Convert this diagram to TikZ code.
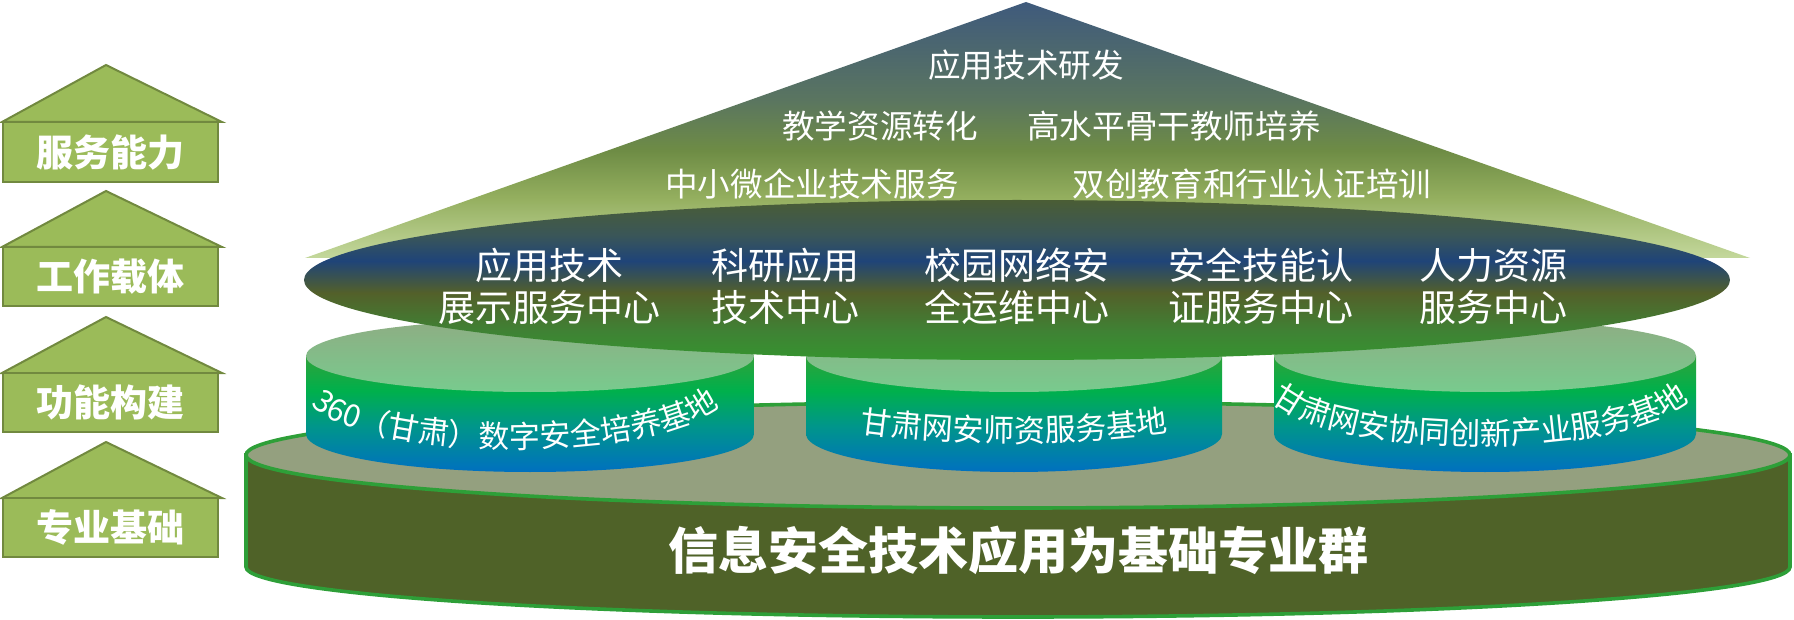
\documentclass[tikz,border=0pt]{standalone}
\usepackage{fontspec}
\newfontfamily\cjk{Noto Sans CJK SC}
\usetikzlibrary{decorations.text}

\definecolor{houseF}{HTML}{9BBB59}
\definecolor{houseD}{HTML}{71893F}
\definecolor{baseTop}{HTML}{94A07F}
\definecolor{baseSide}{HTML}{4F6228}
\definecolor{baseLine}{HTML}{2E9F38}
\definecolor{diskTopA}{HTML}{8EAD83}
\definecolor{diskTopB}{HTML}{78CB8E}
\definecolor{roofA}{HTML}{3F5A7C}
\definecolor{roofB}{HTML}{5A7560}
\definecolor{roofC}{HTML}{6E8C45}
\definecolor{roofD}{HTML}{93AE5E}
\definecolor{roofE}{HTML}{C4D89C}
\definecolor{carA}{HTML}{4A5D35}
\definecolor{carB}{HTML}{3A5658}
\definecolor{carC}{HTML}{1F4478}
\definecolor{carD}{HTML}{53602A}
\definecolor{carE}{HTML}{3F8234}
\definecolor{carF}{HTML}{35942F}
\definecolor{sideA}{HTML}{2FA23A}
\definecolor{sideB}{HTML}{00B04C}
\definecolor{sideC}{HTML}{00968A}
\definecolor{sideD}{HTML}{0070C0}

\pgfdeclareverticalshading{roofshade}{100bp}{color(0bp)=(roofE); color(25bp)=(roofE);
  color(37bp)=(roofD); color(46bp)=(roofC); color(56bp)=(roofB); color(75bp)=(roofA); color(100bp)=(roofA)}
\pgfdeclareverticalshading{carshade}{100bp}{color(0bp)=(carF); color(25bp)=(carF);
  color(34bp)=(carE); color(46bp)=(carD); color(56bp)=(carC); color(64bp)=(carB); color(75bp)=(carA); color(100bp)=(carA)}
\pgfdeclareverticalshading{sideshade}{100bp}{color(0bp)=(sideD); color(25bp)=(sideD);
  color(45bp)=(sideC); color(60bp)=(sideB); color(75bp)=(sideA); color(100bp)=(sideA)}

\newcommand\disktxt{\cjk\fontsize{15.5}{18}\selectfont}

\begin{document}
\begin{tikzpicture}[
  x=0.5pt, y=0.5pt,
  font=\cjk,
  housebox/.style={fill=houseF, draw=houseD, line width=1pt},
  tag/.style={text=white, inner sep=0pt, font=\cjk\bfseries\fontsize{18.5}{22}\selectfont},
  rooftxt/.style={text=white, inner sep=0pt, font=\cjk\fontsize{16.3}{20}\selectfont},
  carrier/.style={text=white, inner sep=0pt, align=center, font=\cjk\fontsize{18.5}{21}\selectfont},
  disktop/.style={top color=diskTopA, bottom color=diskTopB},
  diskside/.style={shading=sideshade},
  basering/.style={draw=baseLine, line width=1.8pt},
  disklabel/.style={decorate, decoration={text along path, text align=center, text color=white, text={|\disktxt|#1}}},
]
  \useasboundingbox (0,0) rectangle (1794,-620);

  % left legend
  \filldraw[housebox] (2,-122) -- (106,-65) -- (222,-122) -- cycle;
  \filldraw[housebox] (3,-122) rectangle (218,-182);
  \node[tag] (serve) at (110,-152) {服务能力};

  \filldraw[housebox] (2,-247) -- (106,-191) -- (222,-247) -- cycle;
  \filldraw[housebox] (3,-247) rectangle (218,-306);
  \node[tag] (carry) at (110,-277) {工作载体};

  \filldraw[housebox] (2,-373) -- (106,-317) -- (222,-373) -- cycle;
  \filldraw[housebox] (3,-373) rectangle (218,-432);
  \node[tag] (build) at (110,-402) {功能构建};

  \filldraw[housebox] (2,-498) -- (106,-442) -- (222,-498) -- cycle;
  \filldraw[housebox] (3,-498) rectangle (218,-557);
  \node[tag] (basis) at (110,-527) {专业基础};

  % base cylinder
  \filldraw[basering, fill=baseSide] (246,-455) -- (246,-567)
    arc[start angle=180, end angle=360, x radius=772, y radius=50] -- (1790,-455) -- cycle;
  \filldraw[basering, fill=baseTop] (1018,-455) ellipse [x radius=772, y radius=53];
  \node[text=white, font=\cjk\bfseries\fontsize{25}{30}\selectfont] (group) at (1018,-550)
    {信息安全技术应用为基础专业群};

  % three bases
  \shade[diskside] (306,-356) -- (306,-434)
    arc[start angle=180, end angle=360, x radius=224, y radius=38] -- (754,-356) -- cycle;
  \shade[disktop] (530,-356) ellipse [x radius=224, y radius=36];
  \path[disklabel={360（甘肃）数字安全培养基地}] (305,-392)
    arc[start angle=180, end angle=360, x radius=210, y radius=56];

  \shade[diskside] (806,-356) -- (806,-434)
    arc[start angle=180, end angle=360, x radius=208, y radius=38] -- (1222,-356) -- cycle;
  \shade[disktop] (1014,-356) ellipse [x radius=208, y radius=36];
  \path[disklabel={甘肃网安师资服务基地}] (714,-372)
    arc[start angle=180, end angle=360, x radius=300, y radius=70];

  \shade[diskside] (1274,-356) -- (1274,-434)
    arc[start angle=180, end angle=360, x radius=211, y radius=38] -- (1696,-356) -- cycle;
  \shade[disktop] (1485,-356) ellipse [x radius=211, y radius=36];
  \path[disklabel={甘肃网安协同创新产业服务基地}] (1265,-385)
    arc[start angle=180, end angle=360, x radius=215, y radius=60];

  % roof
  \shade[shading=roofshade] (1026,-2) -- (305,-258) -- (1750,-258) -- cycle;
  \node[rooftxt] (rnd) at (1026,-65) {应用技术研发};
  \node[rooftxt] (edu) at (880,-126) {教学资源转化};
  \node[rooftxt] (tch) at (1174,-126) {高水平骨干教师培养};
  \node[rooftxt] (sme) at (812,-184) {中小微企业技术服务};
  \node[rooftxt] (cert) at (1252,-184) {双创教育和行业认证培训};

  % carrier disc
  \shade[shading=carshade] (1017,-280) ellipse [x radius=713, y radius=80];
  \node[carrier] (show) at (549,-286) {应用技术\\展示服务中心};
  \node[carrier] (lab) at (785,-286) {科研应用\\技术中心};
  \node[carrier] (ops) at (1017,-286) {校园网络安\\全运维中心};
  \node[carrier] (skill) at (1261,-286) {安全技能认\\证服务中心};
  \node[carrier] (hr) at (1493,-286) {人力资源\\服务中心};
\end{tikzpicture}
\end{document}
